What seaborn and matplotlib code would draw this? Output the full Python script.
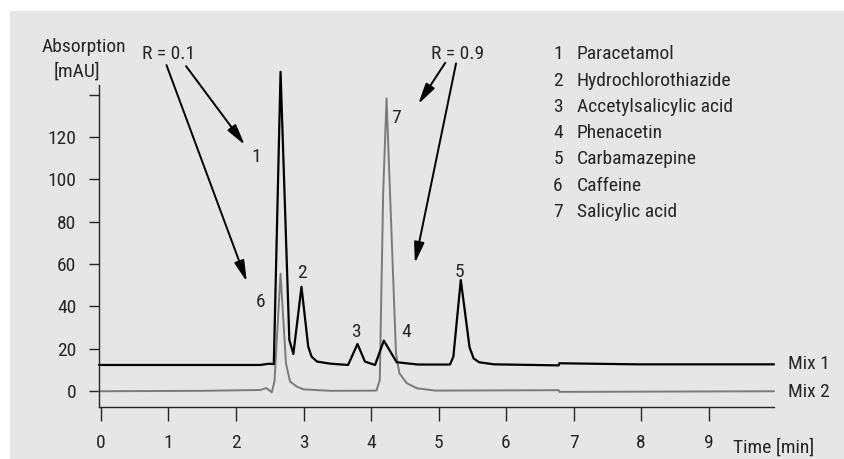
import numpy as np
import pandas as pd
import matplotlib
matplotlib.use('Agg')
import matplotlib.pyplot as plt
from matplotlib import font_manager
from matplotlib.patches import Rectangle
import seaborn as sns

# chromatogram traces (time in min, absorption in mAU)
t_mix1 = [-0.03, 2.36, 2.49, 2.56, 2.66, 2.79, 2.85, 2.97, 3.07, 3.12, 3.20, 3.40,
          3.66, 3.80, 3.91, 4.06, 4.19, 4.38, 4.70, 5.17, 5.22, 5.33, 5.46, 5.52,
          5.60, 5.82, 6.78, 6.79, 7.94, 9.97]
a_mix1 = [12.4, 12.4, 13.0, 12.8, 150.7, 24.2, 17.6, 49.3, 21.0, 16.3, 14.0, 13.0,
          12.4, 22.3, 14.0, 12.4, 23.9, 13.7, 12.6, 12.6, 16.3, 52.5, 20.7, 15.5,
          13.7, 12.7, 12.2, 13.2, 12.7, 12.7]

t_mix2 = [-0.03, 1.50, 2.36, 2.45, 2.53, 2.57, 2.66, 2.74, 2.80, 2.90, 3.00, 3.40,
          4.08, 4.13, 4.18, 4.23, 4.28, 4.37, 4.42, 4.53, 4.68, 4.95, 6.78, 6.79, 9.97]
a_mix2 = [0.0, 0.2, 0.6, 1.5, -0.5, 4.6, 55.5, 13.2, 4.6, 2.2, 0.9, 0.2,
          0.3, 5.3, 93.5, 138.2, 95.0, 17.9, 8.5, 3.8, 1.4, 0.3, 0.5, -0.3, 0.0]

compounds = ['Paracetamol', 'Hydrochlorothiazide', 'Accetylsalicylic acid',
             'Phenacetin', 'Carbamazepine', 'Caffeine', 'Salicylic acid']

# peak number labels: (label, time, absorption)
peak_labels = ['1', '6', '2', '3', '4', '5', '7']
peak_t = [2.30, 2.37, 2.97, 3.78, 4.52, 5.31, 4.37]
peak_a = [110.7, 42.3, 55.9, 28.1, 28.1, 56.4, 128.8]

df1 = pd.DataFrame({'t': t_mix1, 'a': a_mix1})
df2 = pd.DataFrame({'t': t_mix2, 'a': a_mix2})

sns.set_style('ticks')
fam = []
for name in ['Liberation Sans Narrow', 'Roboto Condensed', 'DejaVu Sans']:
    try:
        font_manager.findfont(name, fallback_to_default=False)
        fam.append(name)
    except Exception:
        pass
plt.rcParams['font.family'] = fam if fam else ['DejaVu Sans']
fs = 14

fig = plt.figure(figsize=(8.44, 4.59), dpi=100)
fig.patch.set_facecolor('white')
fig.patches.append(Rectangle((10 / 844, 0), 1, 1 - 11 / 459, transform=fig.transFigure,
                             facecolor='#e6e6e6', edgecolor='none', zorder=-10))

ax = fig.add_axes([98.7 / 844, 0.1139, (774 - 98.7) / 844, 0.7009])
ax.set_facecolor('none')

sns.lineplot(data=df2, x='t', y='a', ax=ax, color='#7a7a7a', lw=1.4, clip_on=False)
sns.lineplot(data=df1, x='t', y='a', ax=ax, color='black', lw=1.6, clip_on=False)

ax.set_xlim(-0.034, 9.97)
ax.set_ylim(-7.3, 144.5)
ax.set_xlabel('')
ax.set_ylabel('')
ax.set_xticks(range(10))
ax.set_yticks(range(0, 141, 20))
ax.set_yticklabels([str(v) for v in range(0, 121, 20)] + [''])
sns.despine(ax=ax)
ax.spines['left'].set_linewidth(1.0)
ax.spines['bottom'].set_linewidth(1.0)
ax.tick_params(axis='x', direction='out', length=10, width=1.0, pad=10, labelsize=fs)
ax.tick_params(axis='y', direction='out', length=7, width=1.0, pad=9, labelsize=fs)

for lab, x, y in zip(peak_labels, peak_t, peak_a):
    ax.text(x, y, lab, ha='center', va='center', fontsize=fs)

ax.text(10.18, a_mix1[-1], 'Mix 1', ha='left', va='center', fontsize=fs, clip_on=False)
ax.text(10.18, a_mix2[-1] - 0.3, 'Mix 2', ha='left', va='center', fontsize=fs, clip_on=False)

# compound list
for i, name in enumerate(compounds):
    y = 159 - i * 12.4
    ax.text(6.77, y, str(i + 1), ha='center', va='center', fontsize=fs, clip_on=False)
    ax.text(7.05, y, name, ha='left', va='center', fontsize=fs, clip_on=False)

# resolution arrows
ax.text(1.007, 159.1, 'R = 0.1', ha='center', va='center', fontsize=fs, clip_on=False)
ax.text(5.28, 159.1, 'R = 0.9', ha='center', va='center', fontsize=fs, clip_on=False)
arrows = [((0.97, 153.9), (2.16, 51.7)),
          ((1.26, 153.4), (2.13, 116.2)),
          ((5.10, 155.0), (4.70, 135.5)),
          ((5.26, 154.7), (4.65, 60.4))]
for start, end in arrows:
    ax.annotate('', xy=end, xytext=start, annotation_clip=False,
                arrowprops=dict(arrowstyle='-|>,head_length=0.9,head_width=0.22',
                                color='black', lw=1.4, shrinkA=0, shrinkB=0,
                                mutation_scale=14))

fig.text(83.8 / 844, 1 - 46.7 / 459, 'Absorption', ha='center', va='center', fontsize=fs)
fig.text(76.7 / 844, 1 - 71.7 / 459, '[mAU]', ha='center', va='center', fontsize=fs)
fig.text(733 / 844, 1 - 448 / 459, 'Time [min]', ha='left', va='center', fontsize=fs)

fig.savefig('out.png', dpi=100)
